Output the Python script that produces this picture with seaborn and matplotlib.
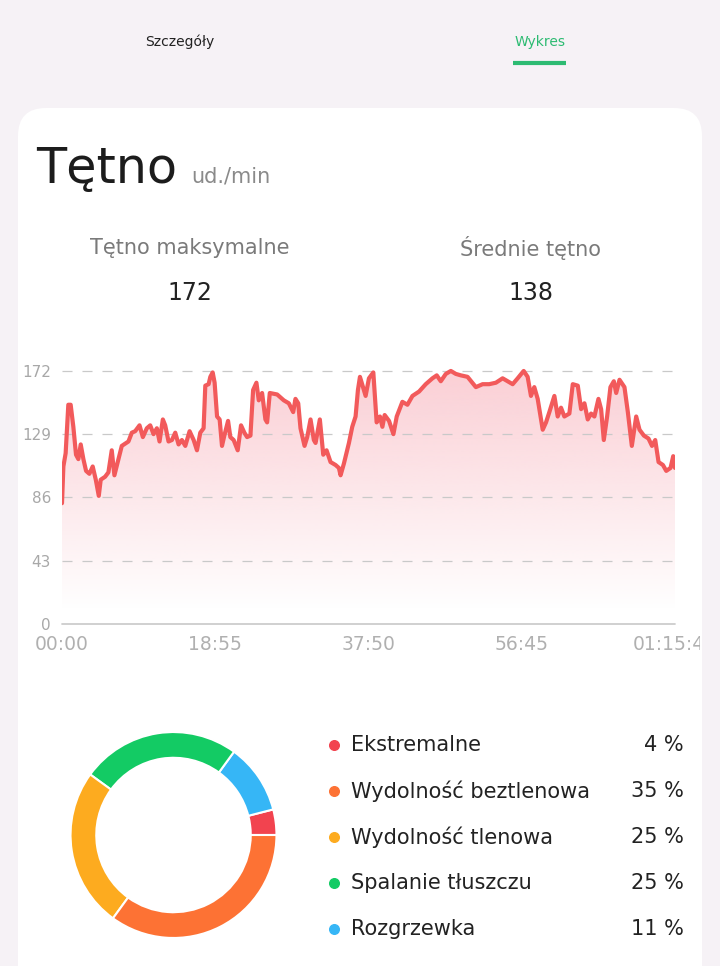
import numpy as np
import pandas as pd
import seaborn as sns
import matplotlib.pyplot as plt
import matplotlib.patches as mpatches
from matplotlib.colors import to_rgb

# ==========================================
# Data
# ==========================================
time_min = [0.00, 0.17, 0.45, 0.78, 1.07, 1.40, 1.73, 2.02, 2.31, 2.64,
            2.97, 3.38, 3.79, 4.17, 4.54, 4.78, 5.32, 5.73, 6.14, 6.47,
            6.97, 7.38, 8.20, 8.62, 9.03, 9.57, 9.98, 10.47, 10.89, 11.30,
            11.71, 12.04, 12.45, 12.74, 13.15, 13.57, 13.98, 14.39, 14.80, 15.22,
            15.75, 16.25, 16.66, 17.07, 17.48, 17.69, 18.10, 18.31, 18.60, 18.84,
            19.14, 19.46, 19.75, 20.04, 20.50, 20.78, 21.19, 21.69, 22.10, 22.51,
            22.85, 23.26, 23.59, 24.00, 24.29, 24.70, 25.11, 25.32, 25.65, 26.56,
            27.38, 28.00, 28.54, 28.82, 29.16, 29.44, 29.94, 30.27, 30.68, 31.09,
            31.30, 31.83, 32.25, 32.66, 33.15, 33.77, 34.18, 34.39, 34.80, 35.42,
            35.83, 36.24, 36.53, 36.78, 37.48, 37.89, 38.43, 38.84, 39.25, 39.55,
            39.83, 40.37, 40.91, 41.32, 42.02, 42.64, 43.26, 44.08, 44.90, 45.73,
            46.26, 46.76, 47.38, 48.00, 48.61, 49.23, 50.06, 51.09, 51.92, 52.73,
            53.56, 54.39, 55.01, 55.63, 56.25, 56.99, 57.48, 57.89, 58.30, 58.72,
            59.34, 59.75, 60.16, 60.78, 61.19, 61.60, 62.01, 62.63, 63.05, 63.67,
            64.08, 64.49, 64.90, 65.31, 65.72, 66.22, 66.55, 66.88, 67.29, 67.70,
            68.12, 68.41, 68.82, 69.43, 69.85, 70.34, 70.88, 71.29, 71.83, 72.40,
            72.83, 73.23, 73.64, 74.18, 74.59, 75.12, 75.45, 75.67]
heart_rate = [82, 107, 116, 149, 149, 134, 115, 112, 122, 112,
              104, 102, 107, 98, 87, 98, 100, 103, 118, 101,
              112, 121, 124, 130, 131, 135, 127, 133, 135, 129,
              133, 124, 139, 135, 124, 125, 130, 122, 125, 121,
              131, 125, 118, 130, 133, 162, 163, 168, 171, 164,
              141, 139, 121, 128, 138, 127, 125, 118, 135, 130,
              127, 128, 159, 164, 152, 157, 139, 137, 157, 156,
              152, 150, 144, 153, 150, 133, 121, 127, 139, 125,
              123, 139, 115, 118, 110, 108, 106, 101, 109, 123,
              134, 141, 159, 168, 155, 167, 171, 137, 141, 134,
              142, 138, 129, 141, 151, 149, 155, 158, 163, 167,
              169, 165, 170, 172, 170, 169, 168, 161, 163, 163,
              164, 167, 165, 163, 167, 172, 168, 155, 161, 153,
              132, 137, 144, 155, 141, 147, 141, 143, 163, 162,
              146, 150, 139, 143, 141, 153, 146, 125, 141, 161,
              165, 157, 166, 161, 144, 121, 141, 132, 128, 126,
              121, 125, 110, 108, 104, 106, 114, 106]

y_ticks = [0, 43, 86, 129, 172]
x_ticks = [0, 18.917, 37.833, 56.75, 75.667]
x_tick_labels = ["00:00", "18:55", "37:50", "56:45", "01:15:40"]

max_hr = 172
avg_hr = 138

zones = ["Ekstremalne", "Wydolność beztlenowa", "Wydolność tlenowa",
         "Spalanie tłuszczu", "Rozgrzewka"]
zone_pct = [4, 35, 25, 25, 11]
zone_colors = ["#f2434f", "#fd7234", "#fdab1f", "#13cb64", "#36b6f6"]
pie_order = [0, 4, 3, 2, 1]   # counter-clockwise from 3 o'clock

# ==========================================
# Style
# ==========================================
BG = "#f6f2f6"
LINE = "#f25a5b"
GREEN = "#2dbb72"
sns.set_style("white")
plt.rcParams['font.family'] = ['DejaVu Sans']

fig = plt.figure(figsize=(7.2, 9.66), dpi=100)
fig.patch.set_facecolor(BG)

# pixel canvas for card / texts
bg = fig.add_axes([0, 0, 1, 1])
bg.set_xlim(0, 720)
bg.set_ylim(966, 0)
bg.axis('off')
r = 28
bg.add_patch(mpatches.FancyBboxPatch((18 + r, 108 + r), 684 - 2 * r, 900,
                                     boxstyle=f"round,pad={r}", fc="white", ec="none"))

# tabs
bg.text(180, 42, "Szczegóły", ha="center", va="center", fontsize=10, color="#222222")
bg.text(540, 42, "Wykres", ha="center", va="center", fontsize=10, color=GREEN)
bg.plot([513, 566], [63, 63], color=GREEN, lw=3, solid_capstyle="butt")

# title
bg.text(36, 183, "Tętno", ha="left", va="baseline", fontsize=35.5, color="#1c1c1c")
bg.text(191, 183, "ud./min", ha="left", va="baseline", fontsize=15, color="#8a8a8a")

# stats
bg.text(190, 248, "Tętno maksymalne", ha="center", va="center", fontsize=15, color="#7a7a7a")
bg.text(190, 293, str(max_hr), ha="center", va="center", fontsize=17, color="#222222")
bg.text(531, 248, "Średnie tętno", ha="center", va="center", fontsize=15, color="#7a7a7a")
bg.text(531, 293, str(avg_hr), ha="center", va="center", fontsize=17, color="#222222")

# ==========================================
# Heart-rate line chart
# ==========================================
ax = fig.add_axes([62 / 720, (966 - 623.7) / 966, 613 / 720, (623.7 - 359.2) / 966])
ax.patch.set_alpha(0)
df = pd.DataFrame({"t": time_min, "hr": heart_rate})

poly = ax.fill_between(df["t"], df["hr"], 0, facecolor="none", edgecolor="none")
grad = np.zeros((256, 1, 4))
grad[..., :3] = to_rgb("#fbcfd5")
grad[:, 0, 3] = np.clip(np.linspace(1.0, -0.06, 256), 0, 1)
im = ax.imshow(grad, extent=[0, time_min[-1], 0, 172], aspect="auto",
               origin="upper", zorder=0)
im.set_clip_path(poly.get_paths()[0], transform=ax.transData)

for v in y_ticks[1:]:
    ax.axhline(v, color="#c9c9c9", lw=0.9, ls=(0, (8, 8)), zorder=1)
ax.axhline(0, color="#cdcdcd", lw=1.3, zorder=1, clip_on=False)

sns.lineplot(data=df, x="t", y="hr", color=LINE, lw=3, ax=ax, zorder=3,
             solid_joinstyle="round")

ax.set_xlim(0, time_min[-1])
ax.set_ylim(0, 180)
ax.set_xticks(x_ticks, x_tick_labels)
ax.set_yticks(y_ticks)
ax.set_xlabel("")
ax.set_ylabel("")
ax.tick_params(axis="y", length=0, pad=8, labelsize=11, labelcolor="#a8a8a8")
ax.tick_params(axis="x", length=0, pad=8, labelsize=13.5, labelcolor="#b0b0b0")
for s in ax.spines.values():
    s.set_visible(False)
clip_rect = mpatches.Rectangle((0, 0), 700 / 720, 1, transform=fig.transFigure)
ax.get_xticklabels()[-1].set_clip_path(clip_rect)

# ==========================================
# Zone donut
# ==========================================
R = 104
axd = fig.add_axes([(173.5 - R) / 720, (966 - 835 - R) / 966, 2 * R / 720, 2 * R / 966])
axd.pie([zone_pct[i] for i in pie_order], colors=[zone_colors[i] for i in pie_order],
        startangle=0, counterclock=True, radius=1,
        wedgeprops=dict(width=0.25, edgecolor="white", linewidth=1.5))
axd.set_xlim(-1.01, 1.01)
axd.set_ylim(-1.01, 1.01)

# legend
rows_y = [745, 791, 837, 883, 929]
for name, pct, col, yy in zip(zones, zone_pct, zone_colors, rows_y):
    bg.scatter([334], [yy], s=48, color=col, zorder=3)
    bg.text(351, yy, name, ha="left", va="center", fontsize=15, color="#222222")
    bg.text(684, yy, f"{pct} %", ha="right", va="center", fontsize=15, color="#222222")

fig.savefig("out.png", dpi=100, facecolor=BG)
